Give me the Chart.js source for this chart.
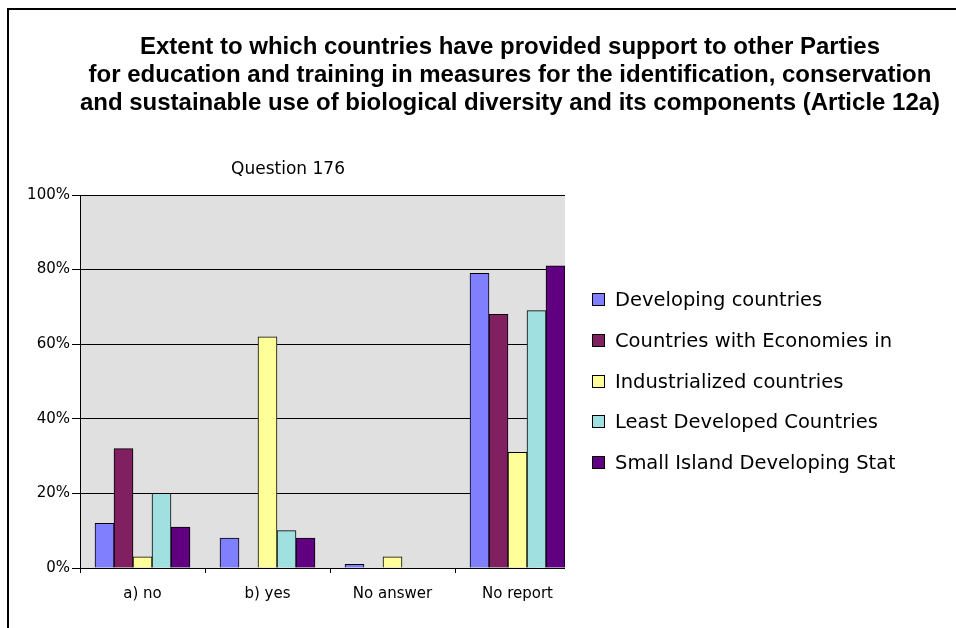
<!DOCTYPE html>
<html>
<head>
<meta charset="utf-8">
<script src="https://cdn.jsdelivr.net/npm/chart.js@4/dist/chart.umd.min.js"></script>
<style>
  html, body { margin: 0; padding: 0; background: #fff; }
  #wrap { position: relative; width: 956px; height: 628px; overflow: hidden; }
  #frame { position: absolute; left: 7px; top: 8px; right: -4px; bottom: -4px;
           border-top: 2px solid #000; border-left: 2px solid #000; }
  canvas { position: absolute; left: 0; top: 0; }
</style>
</head>
<body>
<div id="wrap">
  <div id="frame"></div>
  <canvas id="c" width="956" height="628"></canvas>
</div>
<script>
// Question 176 — share of Parties per group, by answer
const categories = ['a) no', 'b) yes', 'No answer', 'No report'];
const developing = [12, 8, 1, 79];
const transition = [32, 0, 0, 68];
const industrialized = [3, 62, 3, 31];
const leastDeveloped = [20, 10, 0, 69];
const smallIsland = [11, 8, 0, 81];

const seriesNames = [
  'Developing countries',
  'Countries with Economies in Transition',
  'Industrialized countries',
  'Least Developed Countries',
  'Small Island Developing States'
];
const seriesColors = ['#8080FF', '#802060', '#FFFF99', '#A0E0E0', '#600080'];
const seriesValues = [developing, transition, industrialized, leastDeveloped, smallIsland];

const titleLines = [
  'Extent to which countries have provided support to other Parties',
  'for education and training in measures for the identification, conservation',
  'and sustainable use of biological diversity and its components (Article 12a)'
];
const subtitle = 'Question 176';

const FONT = '"DejaVu Sans", Verdana, sans-serif';

// gray plot background, clipped where the plot is cut by the legend column
const plotCut = 565;
const plotBackground = {
  id: 'plotBackground',
  beforeDraw(chart) {
    const { ctx, chartArea: a } = chart;
    ctx.save();
    ctx.fillStyle = '#E0E0E0';
    ctx.fillRect(a.left, a.top, plotCut - a.left, a.bottom - a.top);
    ctx.restore();
  },
  afterDraw(chart) {
    const { ctx, chartArea: a } = chart;
    ctx.save();
    ctx.fillStyle = '#FFFFFF';
    ctx.fillRect(plotCut, a.top - 2, a.right - plotCut + 4, a.bottom - a.top + 10);
    ctx.restore();
  }
};

// heading lines and the question label
const headings = {
  id: 'headings',
  afterDraw(chart) {
    const ctx = chart.ctx;
    ctx.save();
    ctx.fillStyle = '#000';
    ctx.textAlign = 'center';
    ctx.textBaseline = 'middle';
    ctx.font = 'bold 24px "Liberation Sans", Arial, sans-serif';
    titleLines.forEach((t, i) => ctx.fillText(t, 510, 47 + i * 28));
    ctx.font = '17px ' + FONT;
    ctx.fillText(subtitle, 288, 170);
    ctx.restore();
  }
};

// legend column drawn from the datasets, clipped on the right
const sideLegend = {
  id: 'sideLegend',
  afterDraw(chart) {
    const ctx = chart.ctx;
    ctx.save();
    ctx.beginPath();
    ctx.rect(580, 270, 315, 220);
    ctx.clip();
    ctx.font = '19.5px ' + FONT;
    ctx.textAlign = 'left';
    ctx.textBaseline = 'middle';
    chart.data.datasets.forEach((ds, i) => {
      const y = 300 + i * 40.8;
      ctx.fillStyle = ds.backgroundColor;
      ctx.fillRect(592.5, Math.round(y) - 6.5, 12, 12);
      ctx.strokeStyle = '#000';
      ctx.lineWidth = 1;
      ctx.strokeRect(592.5, Math.round(y) - 6.5, 12, 12);
      ctx.fillStyle = '#000';
      ctx.fillText(ds.label, 615, y + 1);
    });
    ctx.restore();
  }
};

new Chart(document.getElementById('c'), {
  type: 'bar',
  data: {
    labels: categories,
    datasets: seriesNames.map((name, i) => ({
      label: name,
      data: seriesValues[i],
      backgroundColor: seriesColors[i],
      borderColor: '#000',
      borderWidth: 1,
      borderSkipped: 'start',
      barThickness: 19
    }))
  },
  options: {
    responsive: false,
    animation: false,
    devicePixelRatio: 1,
    layout: { padding: { left: 0, top: 195, right: 376, bottom: 0 } },
    plugins: {
      legend: { display: false },
      title: { display: false },
      tooltip: { enabled: false }
    },
    scales: {
      x: {
        afterFit(scale) { scale.height = 60; },
        grid: {
          offset: true,
          drawOnChartArea: false,
          drawTicks: true,
          tickLength: 5,
          color: '#000'
        },
        border: { color: '#000', width: 1 },
        ticks: {
          color: '#000',
          font: { family: FONT, size: 15 },
          padding: 12,
          maxRotation: 0
        }
      },
      y: {
        min: 0,
        max: 100,
        afterFit(scale) { scale.width = 80; },
        grid: {
          color: '#000',
          lineWidth: 1,
          drawTicks: true,
          tickLength: 8
        },
        border: { color: '#000', width: 1 },
        ticks: {
          stepSize: 20,
          color: '#000',
          padding: 2,
          font: { family: FONT, size: 15 },
          callback: (v) => v + '%'
        }
      }
    }
  },
  plugins: [plotBackground, headings, sideLegend]
});
</script>
</body>
</html>
